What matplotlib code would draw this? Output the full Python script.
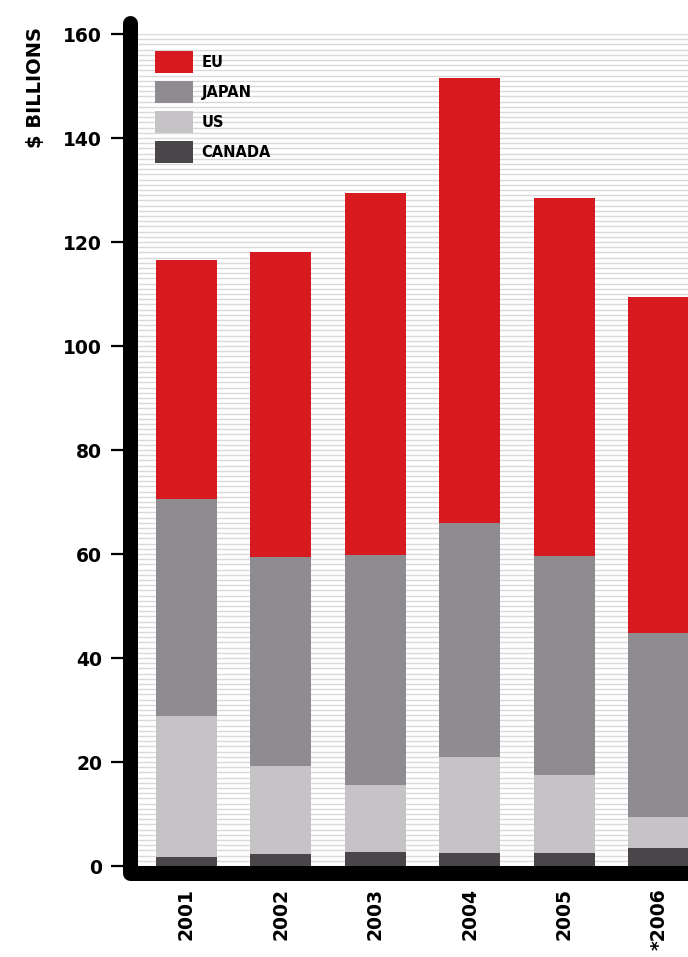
import matplotlib
matplotlib.use("Agg")
import matplotlib.pyplot as plt
from matplotlib.lines import Line2D
from matplotlib.ticker import MultipleLocator
import numpy as np

plt.rcParams["font.family"] = ["DejaVu Sans"]

# data ($ billions)
years = ["2001", "2002", "2003", "2004", "2005", "*2006"]
canada = [1.7, 2.3, 2.7, 2.5, 2.5, 3.5]
us = [27.1, 16.9, 12.9, 18.5, 15.0, 5.9]
japan = [41.8, 40.2, 44.2, 45.0, 42.1, 35.4]
eu = [45.9, 58.7, 69.6, 85.5, 68.9, 64.6]

series = ["EU", "JAPAN", "US", "CANADA"]
colors = {"EU": "#d71920", "JAPAN": "#8e8c90", "US": "#c5c3c6", "CANADA": "#4a4548"}

W, H = 688, 957
fig = plt.figure(figsize=(W / 100, H / 100), dpi=100)
ax = fig.add_axes([137 / W, (H - 866) / H, (688 - 137) / W, (866 - 34) / H])

x = np.arange(len(years))
width = 0.646
bottom = np.zeros(len(years))
handles = {}
for name, vals in [("CANADA", canada), ("US", us), ("JAPAN", japan), ("EU", eu)]:
    handles[name] = ax.bar(x, vals, width, bottom=bottom, color=colors[name], label=name, zorder=3)
    bottom += np.array(vals)

ax.set_xlim(-0.524, 5.31)
ax.set_ylim(0, 160)

# fine horizontal rules behind the bars
ax.yaxis.set_major_locator(MultipleLocator(20))
ax.yaxis.set_minor_locator(MultipleLocator(1))
ax.grid(axis="y", which="both", color="#d9d9d9", linewidth=1.0, zorder=0)
ax.set_axisbelow(True)

for s in ax.spines.values():
    s.set_visible(False)

ax.tick_params(axis="y", which="major", direction="out", length=19, width=1.6,
               color="black", pad=6, labelsize=13.5)
ax.tick_params(axis="y", which="minor", length=0)
for lab in ax.get_yticklabels():
    lab.set_fontweight("bold")

ax.set_xticks(x)
ax.set_xticklabels(years, rotation=90, fontsize=13.5, fontweight="bold")
ax.tick_params(axis="x", length=0, pad=16)

# thick black L-shaped axis with rounded ends
fig.add_artist(Line2D([129.5 / W, 129.5 / W, 700 / W],
                      [1 - 23 / H, 1 - 872.5 / H, 1 - 872.5 / H],
                      color="black", linewidth=10.8, solid_capstyle="round",
                      solid_joinstyle="round", transform=fig.transFigure))

fig.text(35 / W, 1 - 87 / H, "$ BILLIONS", rotation=90, ha="center", va="center",
         fontsize=14, fontweight="bold")

leg = ax.legend([handles[n] for n in series], series, loc="upper left",
                bbox_to_anchor=(18 / 551, 1 - 17 / 832), frameon=False,
                prop={"size": 10.5, "weight": "bold"}, handlelength=2.6,
                handleheight=1.94, labelspacing=0.55, handletextpad=0.6,
                borderaxespad=0, borderpad=0)

fig.savefig("out.png", dpi=100)
